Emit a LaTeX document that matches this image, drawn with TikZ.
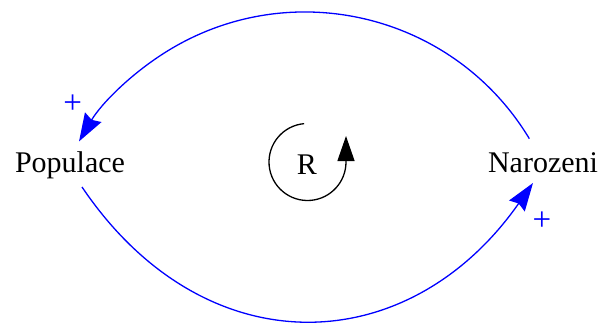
\documentclass[tikz,border=0pt]{standalone}
\usepackage{fontspec}
\setmainfont{Liberation Serif}
\usetikzlibrary{arrows.meta}
\begin{document}
\begin{tikzpicture}[x=1pt,y=1pt,
  varlabel/.style={font=\fontsize{30}{36}\selectfont, inner sep=0pt, anchor=base},
  polarity/.style={font=\fontsize{33}{40}\selectfont, text=blue, inner sep=0pt},
  link/.style={draw=blue, line width=1.3pt, -{Stealth[length=28pt,width=19pt,inset=3pt]}},
  loopline/.style={draw=black, line width=1.3pt, -{Triangle[length=25pt,width=17pt]}}]
\useasboundingbox (0,0) rectangle (600,322);
\node[varlabel] (Populace) at (70,150) {Populace};
\node[varlabel] (Narozeni) at (543,150) {Narozeni};
\node[varlabel] (R) at (307,148) {R};
\node[polarity] (p1) at (72.7,217.7) {+};
\node[polarity] (p2) at (542,101) {+};
\path (305,48) ++(31.1:262) coordinate (Narozeni-out);
\coordinate (Populace-out) at (82,135);
\coordinate (Narozeni-in) at (533,139);
\draw[link] (Narozeni-out) arc[start angle=31.1, end angle=149.6, radius=262pt];
\draw[link] (Populace-out) .. controls (204,-45.7) and (408,-39.5) .. (Narozeni-in);
\path (307.5,160) ++(95:38.5) coordinate (loopstart);
\draw[loopline] (loopstart) arc[start angle=95, end angle=360, radius=38.5pt] -- ++(0,26);
\end{tikzpicture}
\end{document}
